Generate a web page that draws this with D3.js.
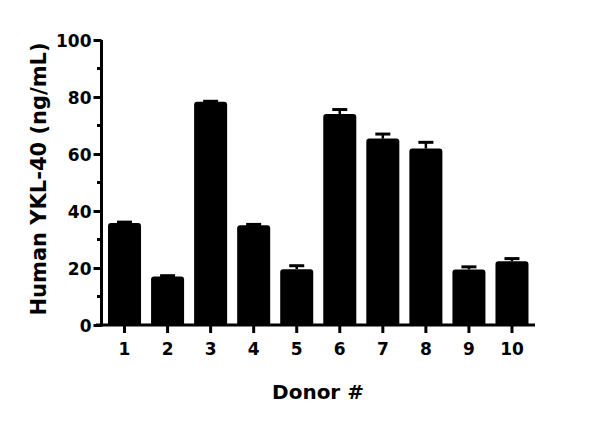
<!DOCTYPE html>
<html>
<head>
<meta charset="utf-8">
<title>Human YKL-40 by donor</title>
<script src="https://d3js.org/d3.v7.min.js"></script>
<style>
body { margin: 0; background: #fff; }
text { font-family: "DejaVu Sans", sans-serif; font-weight: 700; fill: #000; }
</style>
</head>
<body>
<svg id="chart" width="600" height="424"></svg>
<script>
var donors = ["1", "2", "3", "4", "5", "6", "7", "8", "9", "10"];
var means  = [35.8, 17.0, 78.3, 35.0, 19.6, 74.0, 65.4, 61.9, 19.5, 22.4];
var errors = [0.3, 0.3, 0.2, 0.3, 1.2, 1.6, 1.6, 2.2, 0.9, 0.9];
var yTicks = [0, 20, 40, 60, 80, 100];
var yMinor = [10, 30, 50, 70, 90];

var svg = d3.select("#chart");

var x = d3.scaleBand()
    .domain(donors)
    .range([103, 533.5])
    .paddingInner(0.233)
    .paddingOuter(0.1165);

var y = d3.scaleLinear().domain([0, 100]).range([325, 40]);

// bars, rounded on top a little
var bars = svg.append("g");
bars.selectAll("path")
    .data(means)
  .enter().append("path")
    .attr("d", function (d, i) {
      var x0 = x(donors[i]), w = x.bandwidth(), top = y(d), bot = y(0), r = 3;
      return "M" + x0 + "," + bot + "V" + (top + r) + "Q" + x0 + "," + top + " " + (x0 + r) + "," + top +
             "H" + (x0 + w - r) + "Q" + (x0 + w) + "," + top + " " + (x0 + w) + "," + (top + r) + "V" + bot + "Z";
    })
    .attr("fill", "#000");

// error bars (upper only)
var err = svg.append("g").attr("stroke", "#000");
err.selectAll("line.stem")
    .data(means)
  .enter().append("line")
    .attr("class", "stem")
    .attr("x1", function (d, i) { return x(donors[i]) + x.bandwidth() / 2; })
    .attr("x2", function (d, i) { return x(donors[i]) + x.bandwidth() / 2; })
    .attr("y1", function (d) { return y(d); })
    .attr("y2", function (d, i) { return y(d + errors[i]); })
    .attr("stroke-width", 2.5);
err.selectAll("line.cap")
    .data(means)
  .enter().append("line")
    .attr("class", "cap")
    .attr("x1", function (d, i) { return x(donors[i]) + x.bandwidth() / 2 - 7.5; })
    .attr("x2", function (d, i) { return x(donors[i]) + x.bandwidth() / 2 + 7.5; })
    .attr("y1", function (d, i) { return y(d + errors[i]); })
    .attr("y2", function (d, i) { return y(d + errors[i]); })
    .attr("stroke-width", 3);

// y axis
var yAxis = svg.append("g")
    .attr("transform", "translate(101.5,0)")
    .call(d3.axisLeft(y).tickValues(yTicks).tickSize(8).tickPadding(2).tickSizeOuter(0))
    .attr("font-family", null);
yAxis.select(".domain").attr("stroke-width", 3).attr("d", "M0," + (y(0) + 1.5) + "V" + y(100));
yAxis.selectAll(".tick line").attr("stroke-width", 3);
yAxis.selectAll(".tick text").attr("font-size", 17).attr("dy", "0.36em");
svg.append("g").selectAll("line")
    .data(yMinor)
  .enter().append("line")
    .attr("x1", 97).attr("x2", 101.5)
    .attr("y1", function (d) { return y(d); })
    .attr("y2", function (d) { return y(d); })
    .attr("stroke", "#000").attr("stroke-width", 3);

// x axis
var xAxis = svg.append("g")
    .attr("transform", "translate(0," + y(0) + ")")
    .call(d3.axisBottom(x).tickSize(8).tickPadding(10).tickSizeOuter(0))
    .attr("font-family", null);
xAxis.select(".domain").attr("stroke-width", 3).attr("d", "M96,0H535");
xAxis.selectAll(".tick line").attr("stroke-width", 3);
xAxis.selectAll(".tick text").attr("font-size", 17);

// axis titles
svg.append("text")
    .attr("transform", "translate(46,179) rotate(-90)")
    .attr("text-anchor", "middle")
    .attr("font-size", 21)
    .text("Human YKL-40 (ng/mL)");

svg.append("text")
    .attr("x", 318).attr("y", 399)
    .attr("text-anchor", "middle")
    .attr("font-size", 20)
    .text("Donor #");
</script>
</body>
</html>
